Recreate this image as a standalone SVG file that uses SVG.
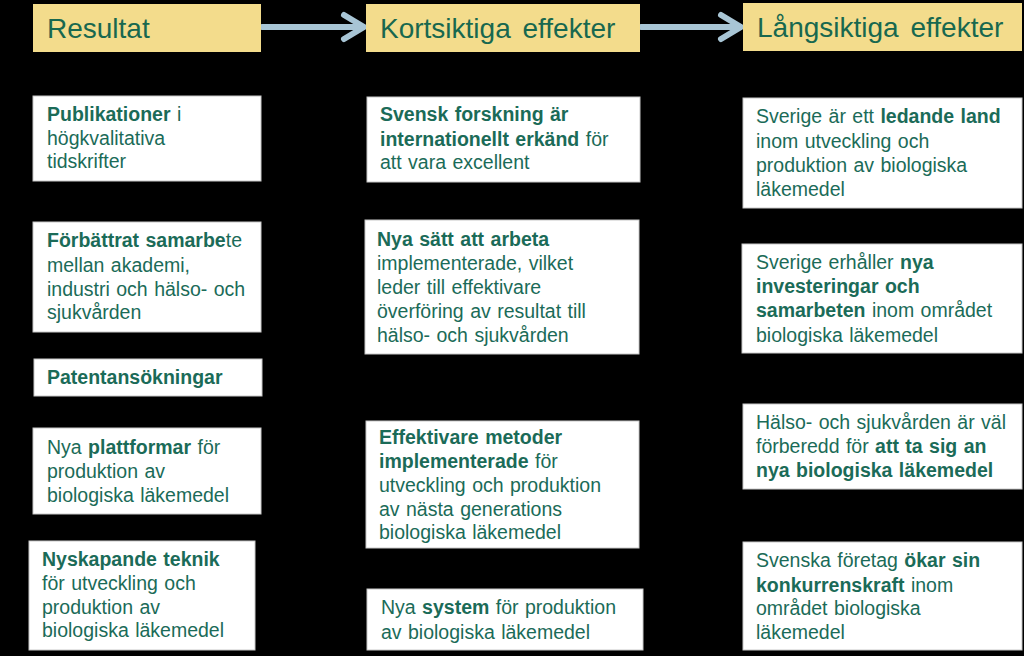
<svg xmlns="http://www.w3.org/2000/svg" width="1024" height="656" viewBox="0 0 1024 656">
<style>
.hdr{fill:#f3dc8c}
.box{fill:#ffffff;stroke:#c8c8c8;stroke-width:1}
.ht{font-family:"Liberation Sans",Arial,sans-serif;font-size:28px;fill:#18684f;word-spacing:4px}
.t{font-family:"Liberation Sans",Arial,sans-serif;font-size:19.5px;fill:#1b6b58;word-spacing:1px}
.b{font-weight:bold}
.arr{fill:none;stroke:#a8c5d5;stroke-width:6;stroke-linecap:round;stroke-linejoin:round}
</style>
<rect x="0" y="0" width="1024" height="656" fill="#000000"/>
<g id="connectors">
<line class="arr" x1="262" y1="27" x2="360" y2="27"/>
<polyline class="arr" points="344,15 364,27 344,39"/>
<line class="arr" x1="641" y1="27" x2="737" y2="27"/>
<polyline class="arr" points="721,15 741,27 721,39"/>
</g>
<g id="h1"><rect class="hdr" x="33" y="4" width="228" height="48"/><text class="ht" x="47" y="38">Resultat</text></g>
<g id="h2"><rect class="hdr" x="366" y="4" width="274" height="48"/><text class="ht" x="380" y="38">Kortsiktiga effekter</text></g>
<g id="h3"><rect class="hdr" x="743" y="3" width="279" height="48"/><text class="ht" x="757" y="37">Långsiktiga effekter</text></g>

<g id="r1"><rect class="box" x="33" y="96" width="228" height="85"/>
<text class="t" x="47" y="121"><tspan class="b">Publikationer</tspan> i</text>
<text class="t" x="47" y="145">högkvalitativa</text>
<text class="t" x="47" y="168">tidskrifter</text></g>

<g id="r2"><rect class="box" x="33" y="222" width="228" height="110"/>
<text class="t" x="47" y="247"><tspan class="b">Förbättrat samarbe</tspan>te</text>
<text class="t" x="47" y="272">mellan  akademi,</text>
<text class="t" x="47" y="296">industri och hälso- och</text>
<text class="t" x="47" y="319">sjukvården</text></g>

<g id="r3"><rect class="box" x="34" y="359" width="228" height="37"/>
<text class="t b" x="47" y="384">Patentansökningar</text></g>

<g id="r4"><rect class="box" x="33" y="428" width="228" height="86"/>
<text class="t" x="47" y="454">Nya <tspan class="b">plattformar</tspan> för</text>
<text class="t" x="47" y="478">produktion av</text>
<text class="t" x="47" y="502">biologiska läkemedel</text></g>

<g id="r5"><rect class="box" x="29" y="541" width="226" height="109"/>
<text class="t b" x="42" y="566">Nyskapande teknik</text>
<text class="t" x="42" y="590">för utveckling och</text>
<text class="t" x="42" y="614">produktion av</text>
<text class="t" x="42" y="637">biologiska läkemedel</text></g>

<g id="k1"><rect class="box" x="367" y="97" width="273" height="85"/>
<text class="t" x="380" y="121"><tspan class="b">Svensk forskning är</tspan></text>
<text class="t" x="380" y="146"><tspan class="b">internationellt erkänd</tspan> för</text>
<text class="t" x="380" y="169">att vara excellent</text></g>

<g id="k2"><rect class="box" x="365" y="220" width="274" height="134"/>
<text class="t b" x="377" y="246">Nya sätt att arbeta</text>
<text class="t" x="377" y="270">implementerade,  vilket</text>
<text class="t" x="377" y="294">leder till effektivare</text>
<text class="t" x="377" y="318">överföring av resultat till</text>
<text class="t" x="377" y="342">hälso- och sjukvården</text></g>

<g id="k3"><rect class="box" x="366" y="421" width="273" height="127"/>
<text class="t b" x="379" y="444">Effektivare metoder</text>
<text class="t" x="379" y="468"><tspan class="b">implementerade</tspan> för</text>
<text class="t" x="379" y="492">utveckling och produktion</text>
<text class="t" x="379" y="516">av nästa generations</text>
<text class="t" x="379" y="539">biologiska läkemedel</text></g>

<g id="k4"><rect class="box" x="367" y="589" width="276" height="61"/>
<text class="t" x="381" y="614">Nya <tspan class="b">system</tspan> för produktion</text>
<text class="t" x="381" y="639">av biologiska läkemedel</text></g>

<g id="l1"><rect class="box" x="743" y="98" width="279" height="110"/>
<text class="t" x="756" y="123">Sverige är ett <tspan class="b">ledande land</tspan></text>
<text class="t" x="756" y="148">inom utveckling och</text>
<text class="t" x="756" y="172">produktion av biologiska</text>
<text class="t" x="756" y="196">läkemedel</text></g>

<g id="l2"><rect class="box" x="742" y="244" width="280" height="109"/>
<text class="t" x="756" y="269">Sverige erhåller <tspan class="b">nya</tspan></text>
<text class="t b" x="756" y="293">investeringar och</text>
<text class="t" x="756" y="317"><tspan class="b">samarbeten</tspan> inom området</text>
<text class="t" x="756" y="342">biologiska läkemedel</text></g>

<g id="l3"><rect class="box" x="743" y="404" width="279" height="85"/>
<text class="t" x="756" y="429">Hälso- och sjukvården är väl</text>
<text class="t" x="756" y="453">förberedd för <tspan class="b">att ta sig an</tspan></text>
<text class="t b" x="756" y="477">nya biologiska läkemedel</text></g>

<g id="l4"><rect class="box" x="743" y="542" width="279" height="108"/>
<text class="t" x="756" y="567">Svenska företag <tspan class="b">ökar sin</tspan></text>
<text class="t" x="756" y="592"><tspan class="b">konkurrenskraft</tspan> inom</text>
<text class="t" x="756" y="615">området biologiska</text>
<text class="t" x="756" y="639">läkemedel</text></g>
</svg>
